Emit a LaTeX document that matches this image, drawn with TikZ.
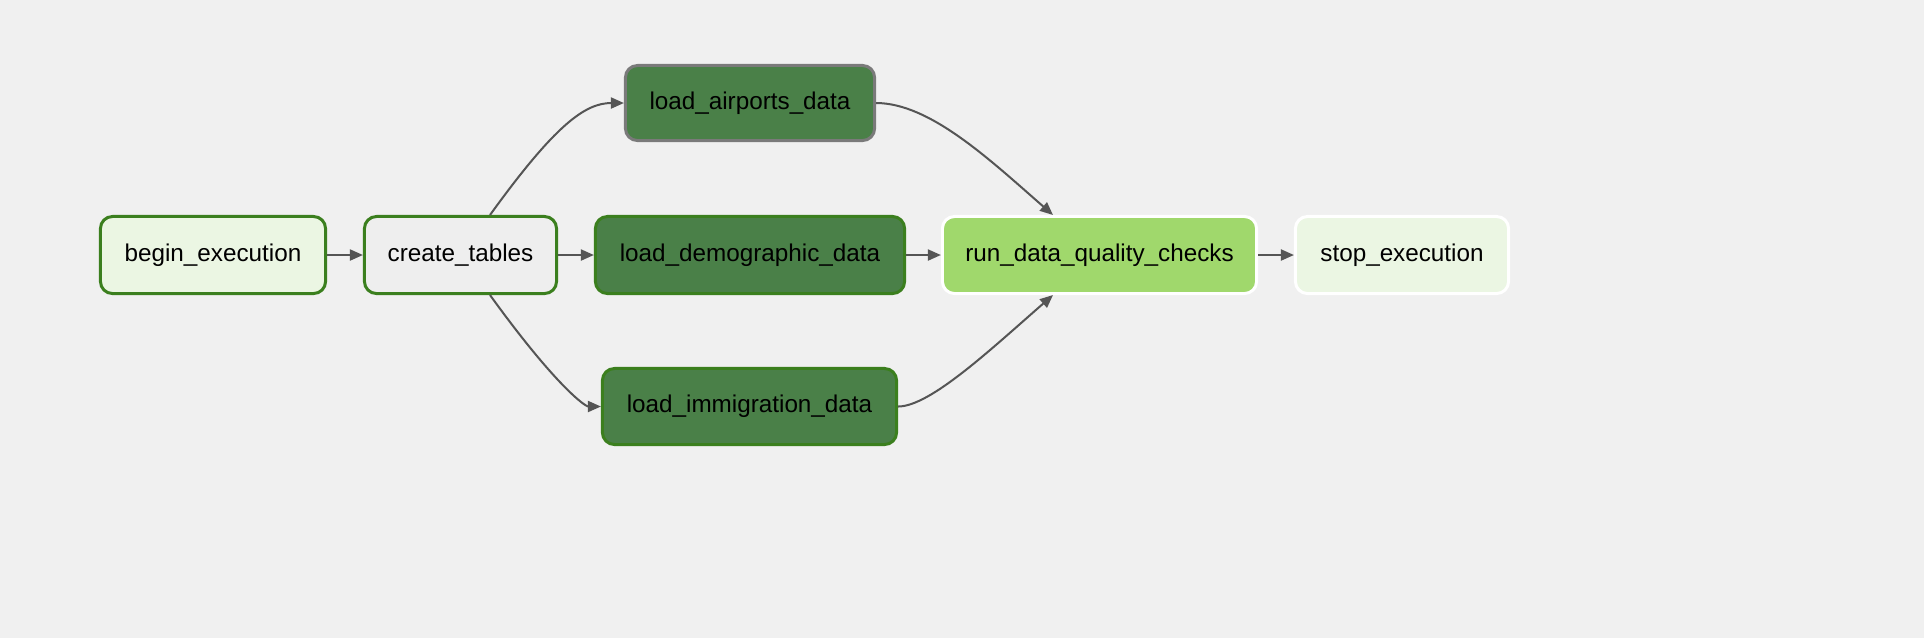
\documentclass[tikz,border=0pt]{standalone}
\usepackage{fontspec}
\setmainfont{Liberation Sans}
\usetikzlibrary{arrows.meta,calc}
\definecolor{bgcol}{HTML}{F0F0F0}
\definecolor{okgreen}{HTML}{3B7F1E}
\definecolor{donefill}{HTML}{4A8048}
\definecolor{palefill}{HTML}{EBF6E3}
\definecolor{limefill}{HTML}{A0D86C}
\definecolor{greyfill}{HTML}{EEEEEE}
\definecolor{greyline}{HTML}{7A7A7A}
\definecolor{edgecol}{HTML}{555555}
\newcommand{\taskheight}{.77cm}

\begin{document}
\begin{tikzpicture}[x=.01cm,y=-.01cm,
    task/.style={draw, rounded corners=.12cm, line width=.03cm, minimum height=\taskheight,
      inner sep=0pt, font=\fontsize{6.9}{8}\selectfont},
    flow/.style={draw=edgecol, line width=.02cm, -{Triangle[length=.13cm,width=.11cm]}}]

      \fill[bgcol] (0,0) rectangle (1924,638);

      \node (begin) at (213,255)   [task, draw=okgreen, fill=palefill, minimum width=2.25cm] {begin\_execution};
      \node (create) at (460.5,255)   [task, draw=okgreen, fill=greyfill, minimum width=1.92cm] {create\_tables};
      \node (airports) at (750,103)   [task, draw=greyline, fill=donefill, minimum width=2.49cm, minimum height=.75cm] {load\_airports\_data};
      \node (demographic) at (750,255)   [task, draw=okgreen, fill=donefill, minimum width=3.09cm] {load\_demographic\_data};
      \node (immigration) at (749.5,406.5)   [task, draw=okgreen, fill=donefill, minimum width=2.94cm, minimum height=.76cm] {load\_immigration\_data};
      \node (checks) at (1099.5,255)   [task, draw=white, fill=limefill, minimum width=3.14cm] {run\_data\_quality\_checks};
      \node (stop) at (1402,255)   [task, draw=white, fill=palefill, minimum width=2.13cm] {stop\_execution};

      \draw[flow] (begin) to (create);
      \draw[flow] (create) to (demographic);
      \draw[flow] (demographic) to (checks);
      \draw[flow] (checks) to (stop);
      \draw[flow] ($(create.north)+(29.5,0)$) .. controls (555,125) and (585,103) .. (airports.west);
      \draw[flow] ($(create.south)+(29.5,0)$) .. controls (555,385) and (585,406.5) .. (immigration.west);
      \draw[flow] (airports.east) .. controls (930,103) and (990,160) .. ($(checks.north)+(-46.5,0)$);
      \draw[flow] (immigration.east) .. controls (930,406.5) and (990,350) .. ($(checks.south)+(-46.5,0)$);

  \end{tikzpicture}
\end{document}
